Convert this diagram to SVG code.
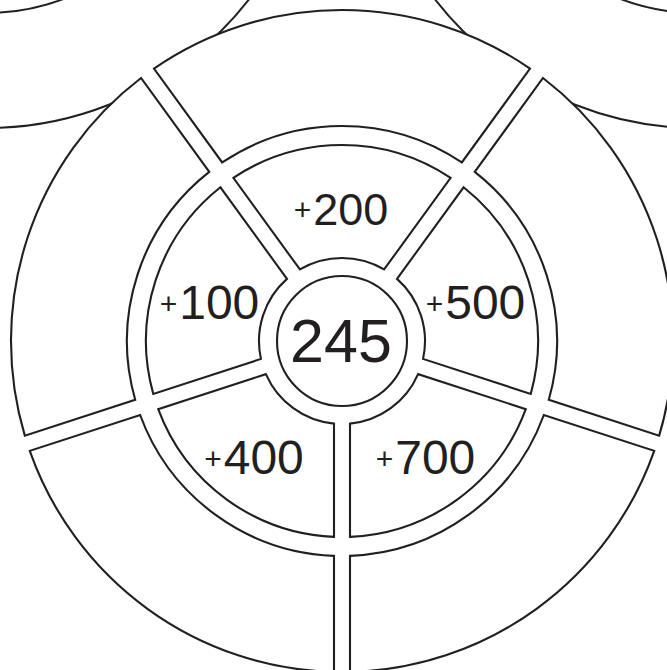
<svg xmlns="http://www.w3.org/2000/svg" width="667" height="670" viewBox="0 0 667 670">
<style>
.ln{fill:none;stroke:#231f20;stroke-width:2}
.seg{fill:#fff;stroke:#231f20;stroke-width:2.1;stroke-linejoin:miter}
.lbl{font-family:"Liberation Sans",Arial,sans-serif;fill:#231f20}
.p{font-size:30px}
.d{font-size:48px}
</style>
<rect width="667" height="670" fill="#fff"/>
<g id="neighbours">
<circle class="ln" cx="-13" cy="-203" r="331"/>
<circle class="ln" cx="-13" cy="-203" r="216"/>
<circle class="ln" cx="697" cy="-203" r="331"/>
<circle class="ln" cx="697" cy="-203" r="216"/>
</g>
<circle id="wheel-bg" cx="342" cy="341" r="331" fill="#fff"/>
<g id="outer-ring">
<path id="o-top" class="seg" d="M153.97,68.59 A331,331 0 0 1 530.03,68.59 L461.81,162.48 A215,215 0 0 0 222.19,162.48 Z"/>
<path id="o-right" class="seg" d="M542.97,78 A331,331 0 0 1 659.18,435.65 L548.81,399.78 A215,215 0 0 0 474.76,171.88 Z"/>
<path id="o-lowright" class="seg" d="M654.23,450.86 A331,331 0 0 1 350,671.9 L350,555.85 A215,215 0 0 0 543.86,415 Z"/>
<path id="o-lowleft" class="seg" d="M334,671.9 A331,331 0 0 1 29.77,450.86 L140.14,415 A215,215 0 0 0 334,555.85 Z"/>
<path id="o-left" class="seg" d="M24.82,435.65 A331,331 0 0 1 141.03,78 L209.24,171.88 A215,215 0 0 0 135.19,399.78 Z"/>
</g>
<g id="inner-ring">
<g id="n-200">
<path class="seg" d="M233.36,177.86 A196,196 0 0 1 450.64,177.86 L384.09,269.46 A83,83 0 0 0 299.91,269.46 Z"/>
<text class="lbl" x="341" y="219.6" text-anchor="middle"><tspan class="p">+</tspan><tspan style="font-size:45px" dx="2" dy="5.4">200</tspan></text>
</g>
<g id="n-500">
<path class="seg" d="M463.58,187.27 A196,196 0 0 1 530.72,393.91 L423.04,358.92 A83,83 0 0 0 397.03,278.87 Z"/>
<text class="lbl" x="475.5" y="313.6" text-anchor="middle"><tspan class="p">+</tspan><tspan class="d" dx="2" dy="5.4">500</tspan></text>
</g>
<g id="n-700">
<path class="seg" d="M525.78,409.13 A196,196 0 0 1 350,536.84 L350,423.61 A83,83 0 0 0 418.1,374.14 Z"/>
<text class="lbl" x="425.5" y="468.6" text-anchor="middle"><tspan class="p">+</tspan><tspan class="d" dx="2" dy="5.4">700</tspan></text>
</g>
<g id="n-400">
<path class="seg" d="M334,536.84 A196,196 0 0 1 158.22,409.13 L265.9,374.14 A83,83 0 0 0 334,423.61 Z"/>
<text class="lbl" x="254" y="468.6" text-anchor="middle"><tspan class="p">+</tspan><tspan class="d" dx="2" dy="5.4">400</tspan></text>
</g>
<g id="n-100">
<path class="seg" d="M153.28,393.91 A196,196 0 0 1 220.42,187.27 L286.97,278.87 A83,83 0 0 0 260.96,358.92 Z"/>
<text class="lbl" x="209.5" y="313.6" text-anchor="middle"><tspan class="p">+</tspan><tspan class="d" dx="2" dy="5.4">100</tspan></text>
</g>
</g>
<g id="n-245">
<circle class="seg" cx="342" cy="341" r="65"/>
<text class="lbl" x="341" y="362" text-anchor="middle" style="font-size:61px">245</text>
</g>
</svg>
